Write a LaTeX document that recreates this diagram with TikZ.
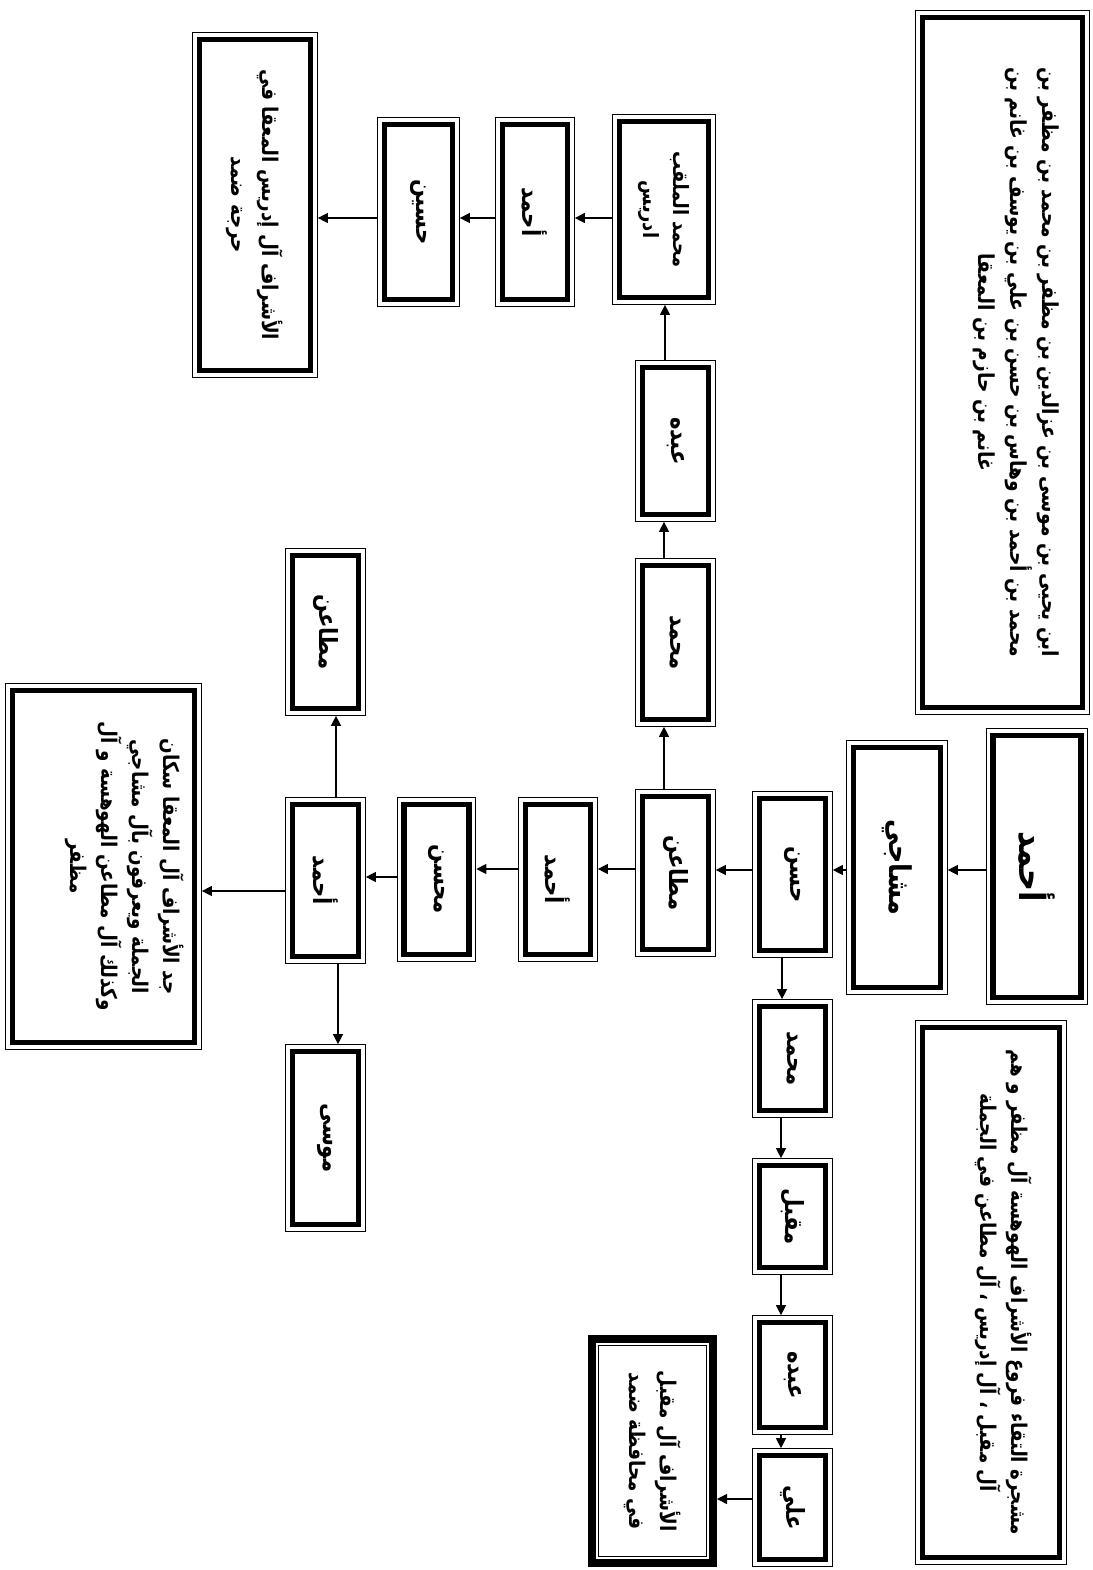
\documentclass[tikz,border=0pt]{standalone}
\usepackage{fontspec}
\usetikzlibrary{arrows.meta}
\newfontfamily\arabicfont[Script=Arabic, FakeStretch=0.85]{DejaVu Sans}
\TeXXeTstate=1
\newcommand{\ar}[1]{\beginR #1\endR}

\tikzset{
  sz/.style 2 args={minimum width=#1pt, minimum height=#2pt},
  person/.style={rotate=-90, draw, fill=white, line width=2.65pt,
    outer sep=3.675pt, inner sep=2pt, align=center,
    preaction={draw, line width=7.35pt},
    preaction={draw, white, line width=6.35pt},
    font=\arabicfont\bfseries\fontsize{12.5}{15}\selectfont},
  note/.style={person, font=\arabicfont\bfseries\fontsize{10.8}{15.5}\selectfont},
  place/.style={rotate=-90, draw, fill=white, line width=0.5pt,
    outer sep=5.25pt, inner sep=2pt, align=center,
    preaction={draw, line width=10.5pt},
    preaction={draw, white, line width=2.5pt},
    font=\arabicfont\bfseries\fontsize{10.8}{15.5}\selectfont},
  arr/.style={-{Triangle[length=5pt,width=5pt]}, line width=0.6pt}
}

\begin{document}
\begin{tikzpicture}[x=0.5pt,y=-0.5pt]
\useasboundingbox (0,0) rectangle (1093,1570);

% main line
\node[person, sz={131}{44}, font=\arabicfont\bfseries\fontsize{18}{22}\selectfont] (ahmad) at (1037,866.5) {\ar{أحمد}};
\node[person, sz={120}{43.5}, font=\arabicfont\bfseries\fontsize{15}{18}\selectfont] (mashaji) at (897,867.5) {\ar{مشاجي}};
\node[person, sz={76}{33}] (hasan) at (792.5,874.5) {\ar{حسن}};
\node[person, sz={76.5}{33}] (mutaan) at (675.5,873) {\ar{مطاعن}};
\node[person, sz={75}{32.5}] (ahmadB) at (558,879.5) {\ar{أحمد}};
\node[person, sz={75}{32.5}] (muhsin) at (436.5,879.5) {\ar{محسن}};
\node[person, sz={76}{33}] (ahmadC) at (325.5,880.5) {\ar{أحمد}};
\node[person, sz={76.5}{33}] (mutaanB) at (325.5,632) {\ar{مطاعن}};
\node[person, sz={86.5}{33}] (musa) at (325.5,1138) {\ar{موسى}};

% aal muqbil
\node[person, sz={52}{33}] (muhammadR) at (792.5,1058.5) {\ar{محمد}};
\node[person, sz={51}{33}] (muqbil) at (792.5,1216.5) {\ar{مقبل}};
\node[person, sz={52.5}{33}] (abduhR) at (792.5,1375) {\ar{عبده}};
\node[person, sz={52}{33}] (ali) at (792.5,1507.5) {\ar{علي}};

% aal idris
\node[person, sz={77}{33}] (muhammadU) at (675.5,642.5) {\ar{محمد}};
\node[person, sz={73.5}{33}] (abduhU) at (675.5,441) {\ar{عبده}};
\node[person, sz={88}{44.5}, font=\arabicfont\bfseries\fontsize{10.5}{15}\selectfont] (idris) at (664,209.5) {\ar{محمد الملقب}\\\ar{ادريس}};
\node[person, sz={87.5}{32.5}] (ahmadD) at (535,212) {\ar{أحمد}};
\node[person, sz={87.5}{34}] (husain) at (418.5,212) {\ar{حسين}};

% notes
\node[note, sz={345}{80}, font=\arabicfont\bfseries\fontsize{11}{16}\selectfont] (lineage) at (1002.5,362.5)
  {\ar{ابن يحيى بن موسى بن عزالدين بن مظفر بن محمد بن مظفر بن}\\
   \ar{محمد بن أحمد بن وهاس بن حسن بن علي بن يوسف بن غانم بن}\\
   \ar{غانم بن حازم بن المعقا}\\\mbox{}};
\node[note, sz={265}{68.5}] (title) at (991,1292.5)
  {\ar{مشجرة التقاء فروع الأشراف الهوهسة آل مظفر و هم}\\
   \ar{آل مقبل ، آل إدريس ، آل مطاعن في الجملة}\\\mbox{}};
\node[note, sz={176}{91}] (ancestor) at (103.5,866.5)
  {\ar{جد الأشراف آل المعقا سكان}\\
   \ar{الجملة ويعرفون بآل مشاجي}\\
   \ar{وكذلك آل مطاعن الهوهسة و آل}\\
   \ar{مظفر}\\[8pt]\mbox{}};
\node[note, sz={165.5}{55.5}] (idrisi) at (255,205)
  {\ar{الأشراف آل إدريس المعقا في}\\\ar{حرجة ضمد}};
\node[place, sz={105.5}{54}] (maqbali) at (652.5,1451)
  {\ar{الأشراف آل مقبل}\\\ar{في محافظة ضمد}};

% connectors
\draw[arr] (ahmad.south |- 0,870) -- (mashaji.north |- 0,870);
\draw[arr] (mashaji.south |- 0,870) -- (hasan.north |- 0,870);
\draw[arr] (hasan.south |- 0,870) -- (mutaan.north |- 0,870);
\draw[arr] (mutaan.south |- 0,869) -- (ahmadB.north |- 0,869);
\draw[arr] (ahmadB.south |- 0,869) -- (muhsin.north |- 0,869);
\draw[arr] (muhsin.south |- 0,877) -- (ahmadC.north |- 0,877);
\draw[arr] (ahmadC.south |- 0,891) -- (ancestor.north |- 0,891);
\draw[arr] (ahmadC.west -| 336,0) -- (mutaanB.east -| 336,0);
\draw[arr] (ahmadC.east -| 338,0) -- (musa.west -| 338,0);

\draw[arr] (hasan.east -| 782,0) -- (muhammadR.west -| 782,0);
\draw[arr] (muhammadR.east -| 781,0) -- (muqbil.west -| 781,0);
\draw[arr] (muqbil.east -| 781,0) -- (abduhR.west -| 781,0);
\draw[arr] (abduhR.east -| 781,0) -- (ali.west -| 781,0);
\draw[arr] (ali.south |- 0,1499) -- (maqbali.north |- 0,1499);

\draw[arr] (mutaan.west -| 664,0) -- (muhammadU.east -| 664,0);
\draw[arr] (muhammadU.west -| 664,0) -- (abduhU.east -| 664,0);
\draw[arr] (abduhU.west -| 665,0) -- (idris.east -| 665,0);
\draw[arr] (idris.south |- 0,218) -- (ahmadD.north |- 0,218);
\draw[arr] (ahmadD.south |- 0,218) -- (husain.north |- 0,218);
\draw[arr] (husain.south |- 0,218) -- (idrisi.north |- 0,218);
\end{tikzpicture}
\end{document}
